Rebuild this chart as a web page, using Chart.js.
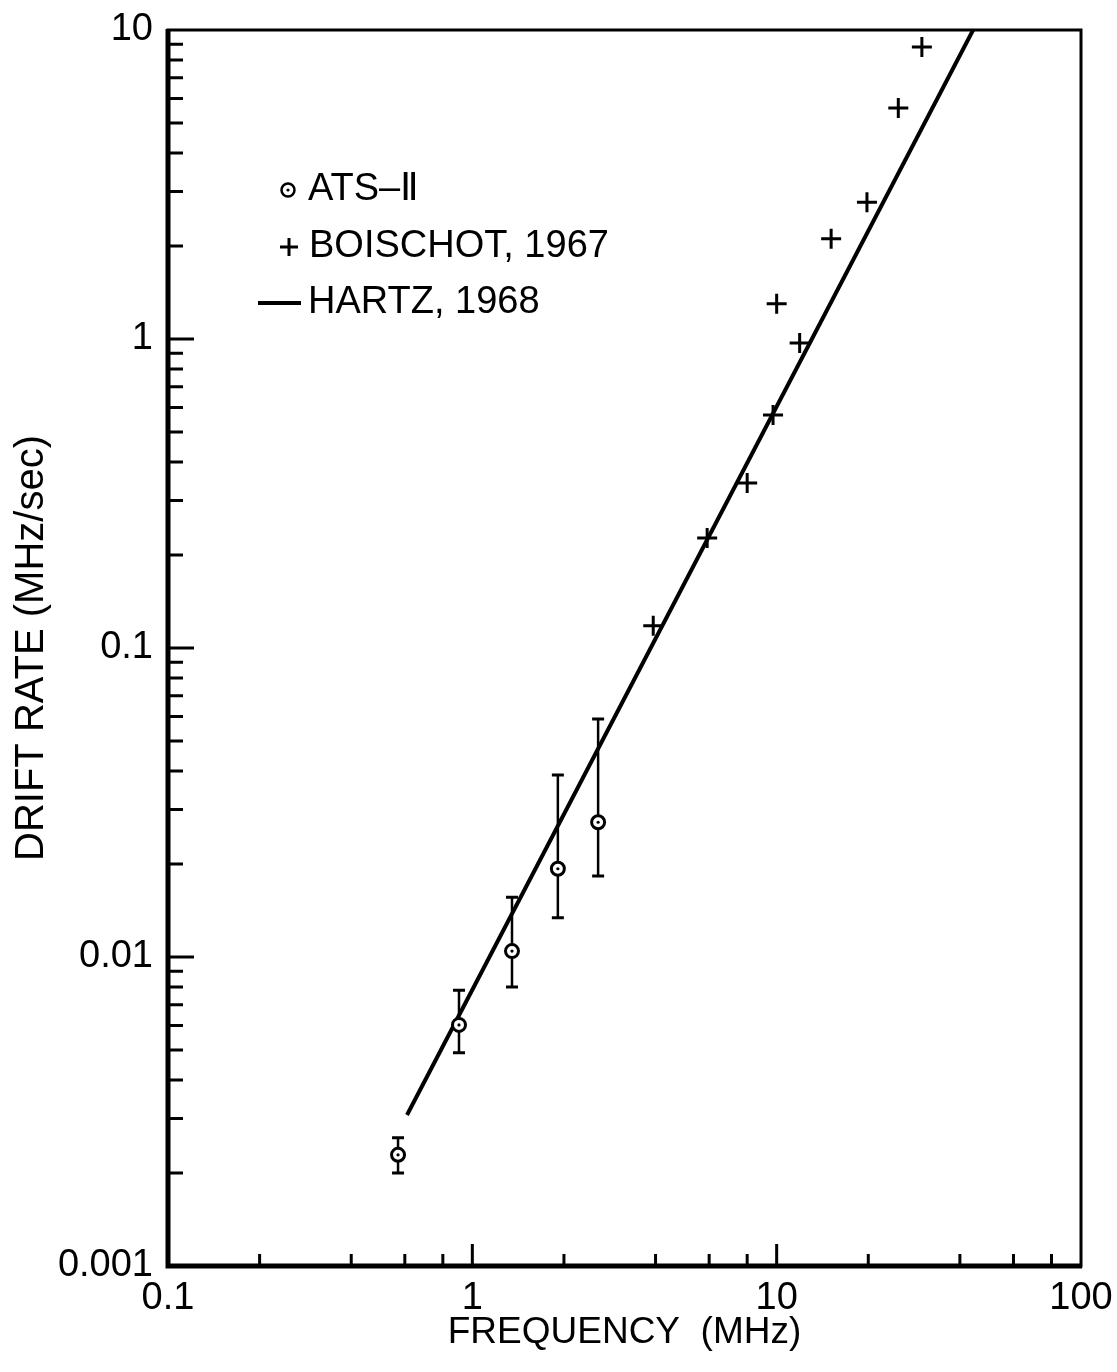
<!DOCTYPE html>
<html>
<head>
<meta charset="utf-8">
<script src="https://cdn.jsdelivr.net/npm/chart.js@4/dist/chart.umd.min.js"></script>
<style>
  html, body { margin: 0; padding: 0; background: #fff; }
  canvas { display: block; }
</style>
</head>
<body>
<canvas id="drift" width="1117" height="1372"></canvas>
<script>
// values (MHz, MHz/sec)
var atsFreq = [0.57, 0.904, 1.35, 1.91, 2.59];
var atsRate = [0.00229, 0.00603, 0.01045, 0.0193, 0.0273];
var atsLow  = [0.0020, 0.0049, 0.0080, 0.0134, 0.0183];
var atsHigh = [0.0026, 0.0078, 0.0156, 0.0388, 0.0589];

var boisFreq = [3.93, 5.91, 8.0, 9.73, 10.0, 11.9, 15.1, 19.8, 25.1, 30.0];
var boisRate = [0.118, 0.227, 0.342, 0.568, 1.30, 0.97, 2.11, 2.77, 5.59, 8.81];

var hartzFreq = [0.61, 44.2];
var hartzRate = [0.00308, 10];

var xMajor = [0.1, 1, 10, 100];
var xLabels = ['0.1', '1', '10', '100'];
var yMajor = [0.001, 0.01, 0.1, 1, 10];
var yLabels = ['0.001', '0.01', '0.1', '1', '10'];
var xMinor = [0.2, 0.4, 0.6, 0.8, 2, 4, 6, 8, 20, 40, 60, 80];
var yMinor = [];
[0.001, 0.01, 0.1, 1].forEach(function(d) {
  for (var k = 2; k <= 9; k++) yMinor.push(+(k * d).toPrecision(3));
});

function pts(xs, ys) {
  return xs.map(function(v, i) { return {x: v, y: ys[i]} });
}

var tickFont = {family: 'Liberation Sans', size: 38};

// frame, inward ticks, error bars and legend
var decor = {
  id: 'decor',
  beforeDatasetsDraw: function(chart) {
    var ctx = chart.ctx, x = chart.scales.x, y = chart.scales.y;
    ctx.save();
    ctx.strokeStyle = '#000';
    atsFreq.forEach(function(f, i) {
      var px = x.getPixelForValue(f);
      var lo = y.getPixelForValue(atsLow[i]);
      var hi = y.getPixelForValue(atsHigh[i]);
      ctx.lineWidth = 2.5;
      ctx.beginPath();
      ctx.moveTo(px, lo); ctx.lineTo(px, hi);
      ctx.stroke();
      ctx.lineWidth = 3;
      ctx.beginPath();
      ctx.moveTo(px - 6, lo); ctx.lineTo(px + 6, lo);
      ctx.moveTo(px - 6, hi); ctx.lineTo(px + 6, hi);
      ctx.stroke();
    });
    ctx.restore();
  },
  afterDraw: function(chart) {
    var ctx = chart.ctx, a = chart.chartArea, x = chart.scales.x, y = chart.scales.y;
    ctx.save();
    ctx.strokeStyle = '#000';
    ctx.fillStyle = '#000';
    ctx.lineWidth = 3;
    ctx.strokeRect(a.left, a.top, a.right - a.left, a.bottom - a.top);
    ctx.lineWidth = 5;
    ctx.beginPath();
    ctx.moveTo(a.left, a.top - 1); ctx.lineTo(a.left, a.bottom);
    ctx.lineTo(a.right + 1, a.bottom);
    ctx.stroke();

    ctx.lineWidth = 3;
    ctx.beginPath();
    xMajor.slice(1, -1).forEach(function(v) {
      var p = x.getPixelForValue(v);
      ctx.moveTo(p, a.bottom); ctx.lineTo(p, a.bottom - 22);
    });
    xMinor.forEach(function(v) {
      var p = x.getPixelForValue(v);
      ctx.moveTo(p, a.bottom); ctx.lineTo(p, a.bottom - 12);
    });
    yMajor.slice(1, -1).forEach(function(v) {
      var p = y.getPixelForValue(v);
      ctx.moveTo(a.left, p); ctx.lineTo(a.left + 26, p);
    });
    yMinor.forEach(function(v) {
      var p = y.getPixelForValue(v);
      ctx.moveTo(a.left, p); ctx.lineTo(a.left + 15, p);
    });
    ctx.stroke();

    // legend
    ctx.font = '38px "Liberation Sans"';
    ctx.textBaseline = 'middle';
    ctx.lineWidth = 2.5;
    ctx.beginPath();
    ctx.arc(288, 190, 6.5, 0, Math.PI * 2);
    ctx.stroke();
    ctx.beginPath();
    ctx.arc(288, 190, 1.6, 0, Math.PI * 2);
    ctx.fill();
    ctx.fillText('ATS\u2013\u2161', 308, 190);
    ctx.lineWidth = 3;
    ctx.beginPath();
    ctx.moveTo(280, 247); ctx.lineTo(298, 247);
    ctx.moveTo(289, 238); ctx.lineTo(289, 256);
    ctx.stroke();
    ctx.fillText('BOISCHOT, 1967', 309, 247);
    ctx.lineWidth = 4;
    ctx.beginPath();
    ctx.moveTo(258, 303); ctx.lineTo(301, 303);
    ctx.stroke();
    ctx.fillText('HARTZ, 1968', 308, 303);
    ctx.restore();
  }
};

new Chart('drift', {
  type: 'scatter',
  plugins: [decor],
  data: {
    datasets: [
      {
        label: 'ATS-II centre',
        data: pts(atsFreq, atsRate),
        pointRadius: 1.6,
        backgroundColor: '#000',
        borderWidth: 0
      },
      {
        label: 'ATS-II',
        data: pts(atsFreq, atsRate),
        pointStyle: 'circle',
        pointRadius: 6.5,
        borderWidth: 3,
        borderColor: '#000',
        backgroundColor: '#fff'
      },
      {
        label: 'BOISCHOT, 1967',
        data: pts(boisFreq, boisRate),
        pointStyle: 'cross',
        pointRadius: 10,
        borderWidth: 3,
        borderColor: '#000'
      },
      {
        label: 'HARTZ, 1968',
        type: 'line',
        data: pts(hartzFreq, hartzRate),
        borderColor: '#000',
        borderWidth: 4,
        pointRadius: 0,
        fill: false,
        tension: 0
      }
    ]
  },
  options: {
    responsive: false,
    animation: false,
    devicePixelRatio: 1,
    layout: {padding: {left: 0, top: 30, right: 36, bottom: 0}},
    plugins: {legend: {display: false}, tooltip: {enabled: false}},
    scales: {
      x: {
        type: 'logarithmic',
        min: 0.1,
        max: 100,
        afterBuildTicks: function(s) { s.ticks = xMajor.map(function(v) { return {value: v} }) },
        afterFit: function(s) { s.height = 106; s.paddingLeft = 0; s.paddingRight = 0 },
        ticks: {
          callback: function(v, i) { return xLabels[i] },
          font: tickFont, color: '#000', padding: 10,
          maxRotation: 0, autoSkip: false
        },
        grid: {display: false, drawTicks: false},
        border: {display: false},
        title: {
          display: true, text: 'FREQUENCY  (MHz)', color: '#000',
          font: {family: 'Liberation Sans', size: 37},
          padding: {top: 0, bottom: 17}
        }
      },
      y: {
        type: 'logarithmic',
        min: 0.001,
        max: 10,
        afterBuildTicks: function(s) { s.ticks = yMajor.map(function(v) { return {value: v} }) },
        afterFit: function(s) { s.width = 168; s.paddingTop = 0; s.paddingBottom = 0 },
        ticks: {
          callback: function(v, i) { return yLabels[i] },
          font: tickFont, color: '#000', padding: 15, autoSkip: false
        },
        grid: {display: false, drawTicks: false},
        border: {display: false},
        title: {
          display: true, text: 'DRIFT RATE (MHz/sec)', color: '#000',
          font: {family: 'Liberation Sans', size: 40},
          padding: {top: 8, bottom: 0}
        }
      }
    }
  }
});
</script>
</body>
</html>
